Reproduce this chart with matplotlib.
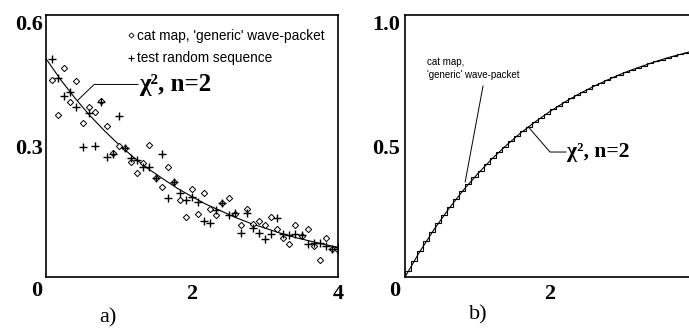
import matplotlib
matplotlib.use('Agg')
import matplotlib.pyplot as plt
from matplotlib.lines import Line2D

plt.rcParams['font.family'] = 'Liberation Serif'

# histogram bins (width 1/12), right edges / point positions
bin_x = [0.083, 0.167, 0.25, 0.333, 0.417, 0.5, 0.583, 0.667, 0.75, 0.833, 0.917, 1.0,
         1.083, 1.167, 1.25, 1.333, 1.417, 1.5, 1.583, 1.667, 1.75, 1.833, 1.917, 2.0,
         2.083, 2.167, 2.25, 2.333, 2.417, 2.5, 2.583, 2.667, 2.75, 2.833, 2.917, 3.0,
         3.083, 3.167, 3.25, 3.333, 3.417, 3.5, 3.583, 3.667, 3.75, 3.833, 3.917, 4.0]

# a) cat map, 'generic' wave-packet (diamonds)
cat_map = [0.451, 0.371, 0.478, 0.401, 0.450, 0.353, 0.390, 0.379, 0.404, 0.346, 0.284, 0.300,
           0.295, 0.264, 0.239, 0.260, 0.302, 0.226, 0.205, 0.251, 0.218, 0.176, 0.138, 0.201,
           0.144, 0.193, 0.155, 0.142, 0.169, 0.180, 0.144, 0.119, 0.155, 0.121, 0.129, 0.119,
           0.137, 0.109, 0.089, 0.075, 0.119, 0.094, 0.109, 0.071, 0.039, 0.089, 0.063, 0.062]

# a) test random sequence (pluses)
random_seq = [0.499, 0.455, 0.414, 0.423, 0.389, 0.298, 0.375, 0.300, 0.401, 0.275, 0.282, 0.369,
              0.295, 0.272, 0.268, 0.251, 0.253, 0.226, 0.282, 0.180, 0.218, 0.192, 0.176, 0.184,
              0.171, 0.129, 0.123, 0.153, 0.169, 0.142, 0.147, 0.100, 0.146, 0.112, 0.100, 0.086,
              0.098, 0.134, 0.098, 0.096, 0.098, 0.096, 0.076, 0.079, 0.077, 0.071, 0.063, 0.069]

# chi^2 (n=2) curves
curve_x = [0.0, 0.2, 0.4, 0.6, 0.8, 1.0, 1.2, 1.4, 1.6, 1.8, 2.0,
           2.2, 2.4, 2.6, 2.8, 3.0, 3.2, 3.4, 3.6, 3.8, 4.0]
chi_pdf = [0.500, 0.452, 0.409, 0.370, 0.335, 0.303, 0.274, 0.248, 0.225, 0.203, 0.184,
           0.166, 0.151, 0.136, 0.123, 0.112, 0.101, 0.091, 0.083, 0.075, 0.068]
chi_cdf = [0.000, 0.095, 0.181, 0.259, 0.330, 0.393, 0.451, 0.503, 0.551, 0.593, 0.632,
           0.667, 0.699, 0.727, 0.753, 0.777, 0.798, 0.817, 0.835, 0.850, 0.865]

# b) cumulative distribution, cat map (one value per bin)
cat_cdf = [0.021, 0.061, 0.099, 0.136, 0.171, 0.205, 0.237, 0.268, 0.298, 0.327, 0.354, 0.381,
           0.406, 0.430, 0.454, 0.476, 0.497, 0.518, 0.537, 0.556, 0.574, 0.592, 0.608, 0.624,
           0.640, 0.654, 0.669, 0.682, 0.695, 0.708, 0.719, 0.731, 0.742, 0.752, 0.763, 0.772,
           0.782, 0.790, 0.799, 0.807, 0.815, 0.823, 0.830, 0.837, 0.843, 0.850, 0.856, 0.862]

W, H = 689, 331
fig = plt.figure(figsize=(W/100, H/100), dpi=100)

tick_font = dict(family='Liberation Serif', weight='bold', size=16)

# ---------------- a) ----------------
ax1 = fig.add_axes([46/W, 1-277/H, 292/W, 262/H])
ax1.set_xlim(0, 4)
ax1.set_ylim(0, 0.6)
ax1.plot(curve_x, chi_pdf, color='k', lw=0.8)
ax1.plot(bin_x, cat_map, ls='none', marker='D', ms=3.2, mfc='white', mec='k', mew=0.7)
ax1.plot(bin_x, random_seq, ls='none', marker='+', ms=5.5, color='k', mew=1.0)

ax1.set_xticks([2, 4])
ax1.set_xticklabels(['2', '4'], fontdict=tick_font)
ax1.set_yticks([0.3, 0.6])
ax1.set_yticklabels(['0.3', '0.6'], fontdict=tick_font)
ax1.get_yticklabels()[-1].set_va('top')
ax1.tick_params(length=0, pad=2.5)
ax1.tick_params(axis='x', pad=5)
ax1.annotate('0', xy=(0, 0), xytext=(-2.5, -3), textcoords='offset points',
             ha='right', va='top', fontsize=16, weight='bold')
for s in ax1.spines.values():
    s.set_linewidth(1.2)

handles = [Line2D([], [], ls='none', marker='D', ms=2.6, mfc='white', mec='k', mew=0.6),
           Line2D([], [], ls='none', marker='+', ms=4.5, color='k', mew=0.8)]
ax1.legend(handles, ["cat map, 'generic' wave-packet", 'test random sequence'],
           loc='upper left', bbox_to_anchor=(0.280, 0.947), frameon=False,
           prop=dict(family='Liberation Sans', size=9.8), handlelength=0.5,
           handletextpad=0.2, labelspacing=0.62, borderpad=0, borderaxespad=0)

ax1.plot([0.43, 0.66, 1.26], [0.404, 0.441, 0.441], color='k', lw=0.7)
ax1.text(1.28, 0.441, 'χ², n=2', family='Liberation Serif', weight='bold', size=18,
         va='center', ha='left')

# ---------------- b) ----------------
ax2 = fig.add_axes([405/W, 1-277/H, 290/W, 262/H])
ax2.set_xlim(0, 4)
ax2.set_ylim(0, 1.0)
ax2.plot(curve_x, chi_cdf, color='k', lw=0.8)
ax2.stairs(cat_cdf, [0.0] + bin_x, color='k', lw=0.8)

ax2.set_xticks([2, 4])
ax2.set_xticklabels(['2', '4'], fontdict=tick_font)
ax2.set_yticks([0.5, 1.0])
ax2.set_yticklabels(['0.5', '1.0'], fontdict=tick_font)
ax2.get_yticklabels()[-1].set_va('top')
ax2.tick_params(length=0, pad=3.6)
ax2.tick_params(axis='x', pad=5)
ax2.annotate('0', xy=(0, 0), xytext=(-3.6, -3), textcoords='offset points',
             ha='right', va='top', fontsize=16, weight='bold')
for s in ax2.spines.values():
    s.set_linewidth(1.2)

ax2.plot([0.83, 1.076], [0.363, 0.729], color='k', lw=0.7)
ax2.text(0.30, 0.796, "cat map,\n'generic' wave-packet", family='Liberation Sans', size=7,
         va='center', ha='left', linespacing=1.35)
ax2.plot([1.70, 2.0, 2.22], [0.573, 0.477, 0.477], color='k', lw=0.7)
ax2.text(2.24, 0.477, 'χ², n=2', family='Liberation Serif', weight='bold', size=15.5,
         va='center', ha='left')

fig.text(108/W, 1-318/H, 'a)', family='Liberation Serif', size=16, ha='center', va='center')
fig.text(478/W, 1-315/H, 'b)', family='Liberation Serif', size=16, ha='center', va='center')

fig.savefig('out.png', dpi=100)
